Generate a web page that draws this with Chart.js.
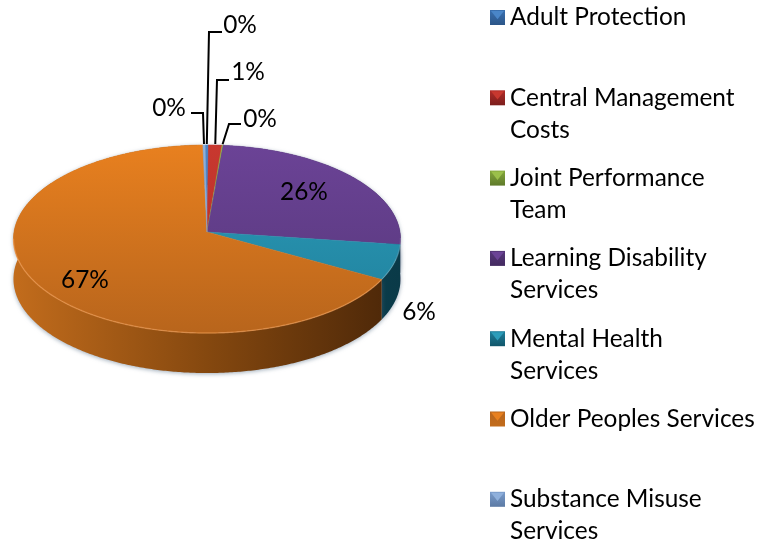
<!DOCTYPE html>
<html>
<head>
<meta charset="utf-8">
<style>html,body{margin:0;padding:0;background:#fff}#w{width:758px;height:543px;position:relative}canvas{display:block}</style>
<script src="https://cdn.jsdelivr.net/npm/chart.js@4"></script>
</head>
<body>
<div id="w"><canvas id="c" width="758" height="543"></canvas></div>
<script>
const categories = ["Adult Protection","Central Management Costs","Joint Performance Team","Learning Disability Services","Mental Health Services","Older Peoples Services","Substance Misuse Services"];
const legendLines = [["Adult Protection"],["Central Management","Costs"],["Joint Performance","Team"],["Learning Disability","Services"],["Mental Health","Services"],["Older Peoples Services"],["Substance Misuse","Services"]];
const shares = [0.3,1.2,0.1,25.7,6.0,66.5,0.2];
const topLight = ["#4a86c8","#c8382f","#9bc04a","#6b4396","#2c9dba","#e8801f","#8fb0dc"];
const topDark  = ["#3a70b0","#b02c28","#84a83c","#56377a","#1f7f9b","#b8651c","#7a9ccb"];
const wallA    = ["#2c5688","#7c1e1c","#5f7a2a","#432a60","#11566a","#c26c1c","#5c7aa4"];
const wallB    = ["#1c3a5e","#541412","#3f521c","#2d1c40","#0a3a48","#4a2608","#3e5270"];
const legendTop = 17.5, legendGap = 80.3, lineGap = 32;
const FONT = '24.4px Lato, Carlito, sans-serif';
const labelAt = [[240,25],[248,72],[260,119],[304,192],[419,312],[85,280],[169,108]];
const leaders = [[[222,32],[209,32]],[[229,80],[217,80]],[[241,124],[229,124]],null,null,null,[[191,113],[203,113]]];
const DEPTH = 40, K = 0.0745, SQUASH = 0.4845;

function pieFor(el){
  const R = el.outerRadius, A = R*SQUASH;
  return a => { const x=Math.cos(a), y=Math.sin(a), d=1-K*y; return [el.x+R*x/d, el.y+A*y/d]; };
}
function arcPts(p,s,e){ const n=Math.max(2,Math.ceil((e-s)/0.01)), r=[]; for(let i=0;i<=n;i++) r.push(p(s+(e-s)*i/n)); return r; }

const pie3d = {
  id:'pie3d',
  beforeDatasetsDraw(chart){
    const ctx=chart.ctx, arcs=chart.getDatasetMeta(0).data;
    const first=arcs[0], p=pieFor(first), R=first.outerRadius;
    const left=first.x-R, right=first.x+R, top=p(-Math.PI/2)[1], bot=p(Math.PI/2)[1];
    ctx.save();
    arcs.forEach((el,i)=>{
      const pts=arcPts(p,el.startAngle,el.endAngle);
      const g=ctx.createLinearGradient(left,0,right,0);
      g.addColorStop(0,wallA[i]); g.addColorStop(1,wallB[i]);
      if(i===5){ g.addColorStop(0.5,'#85480f'); }
      ctx.fillStyle=g;
      ctx.shadowColor='rgba(80,105,130,0.55)'; ctx.shadowBlur=4; ctx.shadowOffsetY=1;
      ctx.beginPath();
      pts.forEach((q,j)=> j?ctx.lineTo(q[0],q[1]):ctx.moveTo(q[0],q[1]));
      pts.slice().reverse().forEach(q=>ctx.lineTo(q[0],q[1]+DEPTH));
      ctx.closePath(); ctx.fill();
    });
    ctx.restore();
    arcs.forEach((el,i)=>{
      const pts=arcPts(p,el.startAngle,el.endAngle);
      const g=ctx.createLinearGradient(0,top,0,bot);
      g.addColorStop(0,topLight[i]); g.addColorStop(1,topDark[i]);
      ctx.fillStyle=g;
      ctx.beginPath(); ctx.moveTo(el.x,el.y);
      pts.forEach(q=>ctx.lineTo(q[0],q[1]));
      ctx.closePath(); ctx.fill();
      ctx.strokeStyle=g; ctx.lineWidth=0.5; ctx.stroke();
      const front=pts.filter(q=>q[1]>first.y+6);
      if(front.length>1){
        ctx.strokeStyle= i===5 ? 'rgba(255,170,100,0.45)' : 'rgba(255,255,255,0.14)';
        ctx.lineWidth=1.4; ctx.beginPath();
        front.forEach((q,j)=> j?ctx.lineTo(q[0],q[1]):ctx.moveTo(q[0],q[1]));
        ctx.stroke();
      }
    });
    return false;
  },
  afterDraw(chart){
    const ctx=chart.ctx, arcs=chart.getDatasetMeta(0).data;
    const p=pieFor(arcs[0]);
    const total=shares.reduce((a,b)=>a+b,0);
    ctx.save();
    ctx.fillStyle='#000'; ctx.font=FONT; ctx.textAlign='center'; ctx.textBaseline='middle';
    shares.forEach((v,i)=>{
      ctx.fillText(Math.round(v/total*100)+'%',labelAt[i][0],labelAt[i][1]);
      if(leaders[i]){
        const el=arcs[i], q=p((el.startAngle+el.endAngle)/2);
        ctx.strokeStyle='#000'; ctx.lineWidth=2; ctx.lineJoin='miter';
        ctx.beginPath(); ctx.moveTo(leaders[i][0][0],leaders[i][0][1]);
        ctx.lineTo(leaders[i][1][0],leaders[i][1][1]); ctx.lineTo(q[0],q[1]-1); ctx.stroke();
      }
    });
    ctx.textAlign='left';
    legendLines.forEach((lines,i)=>{
      const y=legendTop+legendGap*i, x=490, s=15, t=y-s/2;
      const g=ctx.createLinearGradient(0,t,0,t+s);
      g.addColorStop(0,topDark[i]); g.addColorStop(1,wallA[i]);
      ctx.fillStyle=g; ctx.fillRect(x,t,s,s);
      ctx.fillStyle=topLight[i];
      ctx.beginPath(); ctx.moveTo(x+1,t+1); ctx.lineTo(x+s-1,t+1); ctx.lineTo(x+s/2,t+s*0.62); ctx.closePath(); ctx.fill();
      ctx.fillStyle='#000';
      lines.forEach((l,j)=>ctx.fillText(l,510,y+j*lineGap));
    });
    ctx.restore();
  }
};

new Chart(document.getElementById('c'),{
  type:'pie',
  data:{labels:categories,datasets:[{data:shares,backgroundColor:topLight,borderWidth:0}]},
  options:{
    responsive:false,animation:false,rotation:-0.6,
    layout:{padding:{left:14,right:358,top:39,bottom:118}},
    plugins:{legend:{display:false},tooltip:{enabled:false}}
  },
  plugins:[pie3d]
});
</script>
</body>
</html>
